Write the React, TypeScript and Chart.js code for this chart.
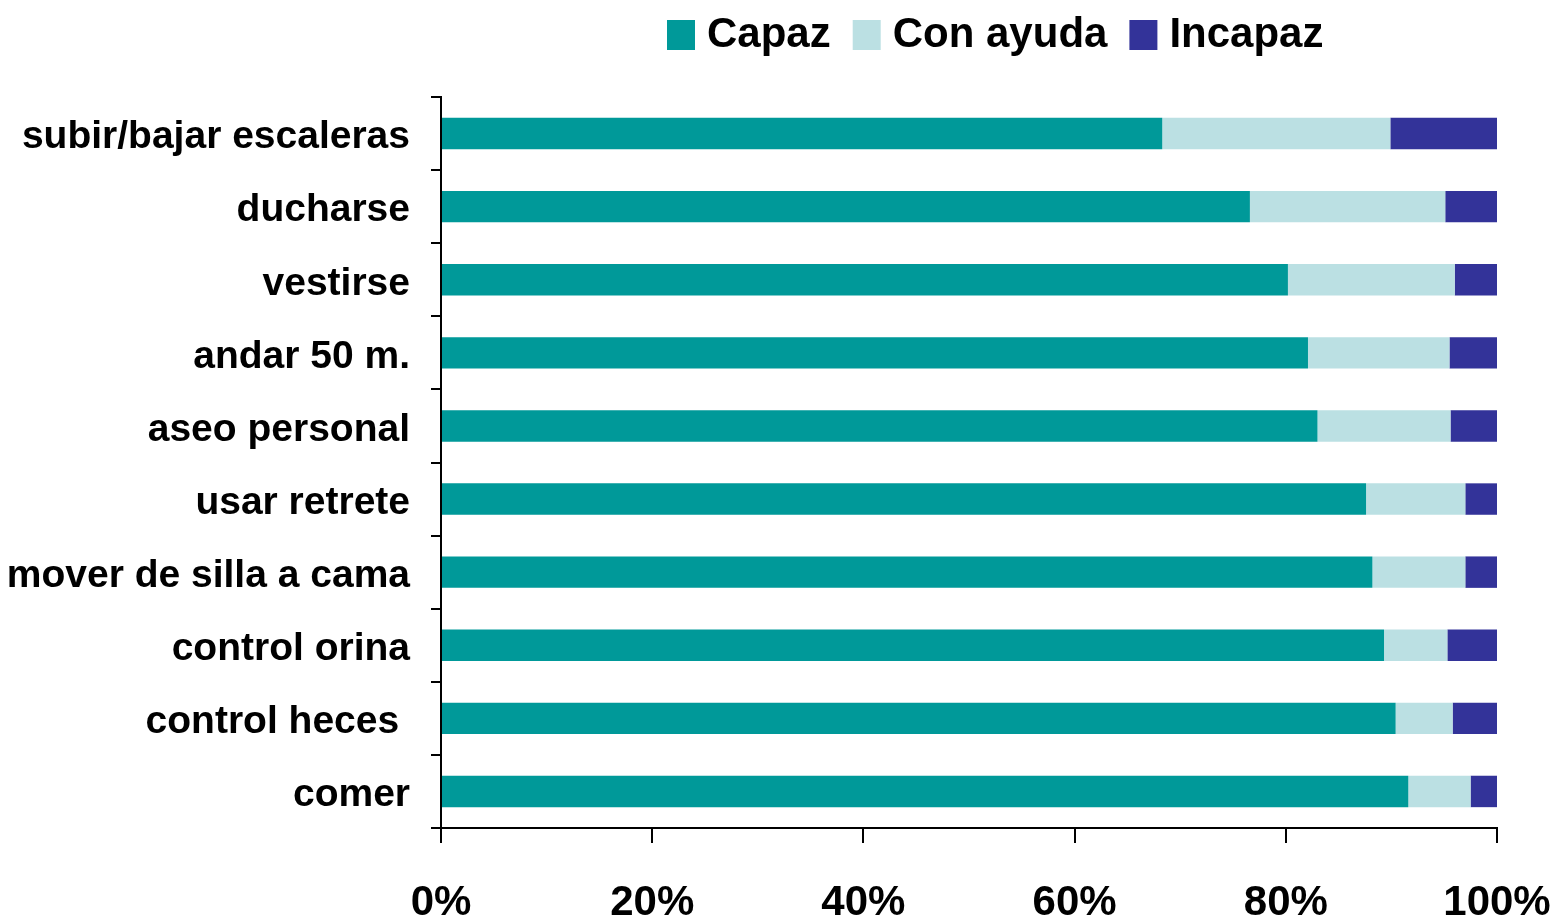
import React, { useEffect, useRef } from "react";
import { Chart, registerables } from "chart.js";

Chart.register(...registerables);

const categories = [
  "subir/bajar escaleras",
  "ducharse",
  "vestirse",
  "andar 50 m.",
  "aseo personal",
  "usar retrete",
  "mover de silla a cama",
  "control orina",
  "control heces ",
  "comer",
];

const capaz = [68.3, 76.6, 80.2, 82.1, 83.0, 87.6, 88.2, 89.3, 90.4, 91.6];
const conAyuda = [21.6, 18.5, 15.8, 13.4, 12.6, 9.4, 8.8, 6.0, 5.4, 5.9];
const incapaz = [10.1, 4.9, 4.0, 4.5, 4.4, 3.0, 3.0, 4.7, 4.2, 2.5];

const seriesNames = ["Capaz", "Con ayuda", "Incapaz"];
const seriesColors = ["#009999", "#BBE0E3", "#333399"];
const xTicks = [0, 20, 40, 60, 80, 100];

const LEGEND_BOX_STROKE = 18;
const LEGEND_START_X = 676;
const LEGEND_SHIFT_Y = -31;

const legendShift = {
  id: "legendShift",
  afterLayout(chart: any) {
    const l = chart.legend;
    if (!l || !l.lineWidths) return;
    const pad = l.options.labels.padding;
    const start = (l.left + l.right + pad - l.lineWidths[0]) / 2;
    const dx = LEGEND_START_X - start;
    l.left += dx;
    l.right += dx;
    l.top += LEGEND_SHIFT_Y;
    l.bottom += LEGEND_SHIFT_Y;
  },
};

export default function App() {
  const ref = useRef<HTMLCanvasElement | null>(null);

  useEffect(() => {
    if (!ref.current) return;
    const data = [capaz, conAyuda, incapaz];
    const chart = new Chart(ref.current, {
      type: "bar",
      data: {
        labels: categories,
        datasets: seriesNames.map((name, i) => ({
          label: name,
          data: data[i],
          backgroundColor: seriesColors[i],
          borderWidth: 0,
          barPercentage: 0.43,
          categoryPercentage: 1,
        })),
      },
      options: {
        indexAxis: "y",
        animation: false,
        responsive: true,
        maintainAspectRatio: false,
        layout: { padding: { left: 0, right: 61, top: 14, bottom: 0 } },
        plugins: {
          tooltip: { enabled: false },
          legend: {
            position: "top",
            labels: {
              boxWidth: 10,
              boxHeight: 12,
              padding: 31,
              color: "#000",
              font: { family: "'Liberation Sans', Arial", size: 42, weight: "bold" },
              generateLabels: (chart: any) => {
                const items = (Chart as any).defaults.plugins.legend.labels.generateLabels(chart);
                return items.map((it: any) => ({
                  ...it,
                  lineWidth: LEGEND_BOX_STROKE,
                  strokeStyle: it.fillStyle,
                  lineJoin: "miter",
                  lineDash: [],
                }));
              },
            },
          },
        },
        scales: {
          x: {
            stacked: true,
            min: 0,
            max: 100,
            afterBuildTicks: (s: any) => {
              s.ticks = xTicks.map((v) => ({ value: v }));
            },
            afterFit: (s: any) => {
              s.height = 93;
              s.paddingLeft = 0;
              s.paddingRight = 0;
            },
            ticks: {
              callback: (v: any) => v + "%",
              color: "#000",
              padding: 35,
              maxRotation: 0,
              font: { family: "'Liberation Sans', Arial", size: 42, weight: "bold" },
            },
            grid: {
              drawOnChartArea: false,
              tickLength: 15,
              color: "#000",
              lineWidth: 2,
            },
            border: { display: true, color: "#000", width: 2 },
          },
          y: {
            stacked: true,
            afterFit: (s: any) => {
              s.width = 441;
            },
            ticks: {
              color: "#000",
              padding: 21,
              labelOffset: 4,
              font: { family: "'Liberation Sans', Arial", size: 39, weight: "bold" },
            },
            grid: {
              offset: true,
              drawOnChartArea: false,
              tickLength: 10,
              color: "#000",
              lineWidth: 2,
            },
            border: { display: true, color: "#000", width: 2 },
          },
        },
      },
      plugins: [legendShift],
    });
    return () => chart.destroy();
  }, []);

  return (
    <div style={{ position: "fixed", left: 0, top: 0, width: 1558, height: 921, background: "#fff" }}>
      <canvas ref={ref} />
    </div>
  );
}
